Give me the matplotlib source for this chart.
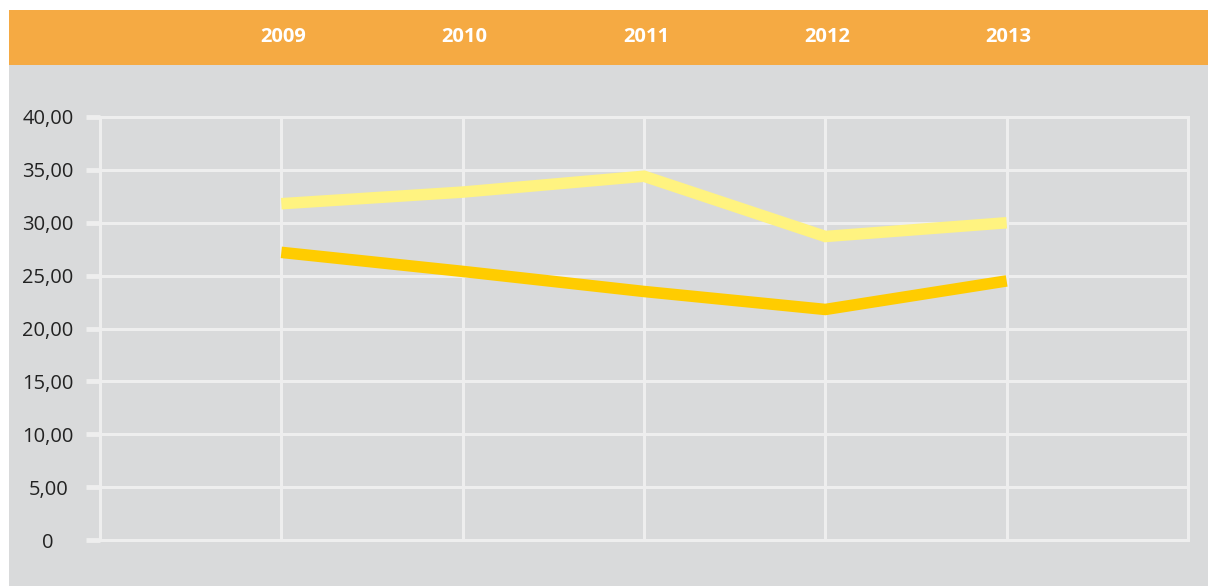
import matplotlib.pyplot as plt
import matplotlib.transforms as mtransforms
from matplotlib.patches import Rectangle

years = ['2009', '2010', '2011', '2012', '2013']
light_vals = [31.8, 32.9, 34.4, 28.7, 30.0]
dark_vals = [27.2, 25.4, 23.5, 21.8, 24.5]
y_ticks = [0, 5, 10, 15, 20, 25, 30, 35, 40]
y_labels = ['0', '5,00', '10,00', '15,00', '20,00', '25,00', '30,00', '35,00', '40,00']

BG = '#d9dadb'
ORANGE = '#f5aa43'
GRID = '#eeeeee'

plt.rcParams['font.family'] = ['Open Sans', 'DejaVu Sans']

fig = plt.figure(figsize=(12.08, 5.86), dpi=100)
fig.patch.set_facecolor('white')

# grey panel and orange header band (behind the axes)
fig.patches.append(Rectangle((9 / 1208, 0), 1 - 9 / 1208, 1 - 10 / 586,
                             transform=fig.transFigure, facecolor=BG, edgecolor='none', zorder=-2))
fig.patches.append(Rectangle((9 / 1208, 1 - 65 / 586), 1 - 9 / 1208, 55 / 586,
                             transform=fig.transFigure, facecolor=ORANGE, edgecolor='none', zorder=-1))

ax = fig.add_axes([100 / 1208, 46 / 586, 1088 / 1208, 423 / 586])
ax.set_facecolor('none')

xs = list(range(1, len(years) + 1))
ax.plot(xs, light_vals, color='#fff380', lw=8.3, solid_capstyle='butt', solid_joinstyle='miter', zorder=3)
ax.plot(xs, dark_vals, color='#ffcc00', lw=8.3, solid_capstyle='butt', solid_joinstyle='miter', zorder=3)

ax.set_xlim(0, 6)
ax.set_ylim(0, 40)
ax.set_xticks(range(0, 7))
ax.set_yticks(y_ticks)
ax.set_yticklabels(y_labels)
ax.grid(True, color=GRID, lw=2.2, zorder=1)
for gl in ax.get_xgridlines() + ax.get_ygridlines():
    gl.set_clip_on(False)
ax.set_axisbelow(True)
for s in ax.spines.values():
    s.set_visible(False)
ax.tick_params(axis='x', length=0, labelbottom=False)
ax.tick_params(axis='y', length=10, width=3.5, color=GRID, direction='out',
               pad=9, labelsize=14.5, labelcolor='#222222')

# the short labels sit a bit further left in the original (number format padding)
shift = {'0': -20, '5,00': -5}
for lab in ax.get_yticklabels():
    dx = shift.get(lab.get_text(), 0)
    if dx:
        lab.set_transform(lab.get_transform() +
                          mtransforms.ScaledTranslation(dx / 100, 0, fig.dpi_scale_trans))

# year labels in the header band
trans = mtransforms.blended_transform_factory(ax.transData, fig.transFigure)
for x, yr in zip(xs, years):
    ax.text(x, 1 - 37 / 586, yr, transform=trans + mtransforms.ScaledTranslation(0.02, 0, fig.dpi_scale_trans),
            ha='center', va='center', color='white', fontsize=14.5, fontweight='bold', clip_on=False)

fig.savefig('out.png', dpi=100)
